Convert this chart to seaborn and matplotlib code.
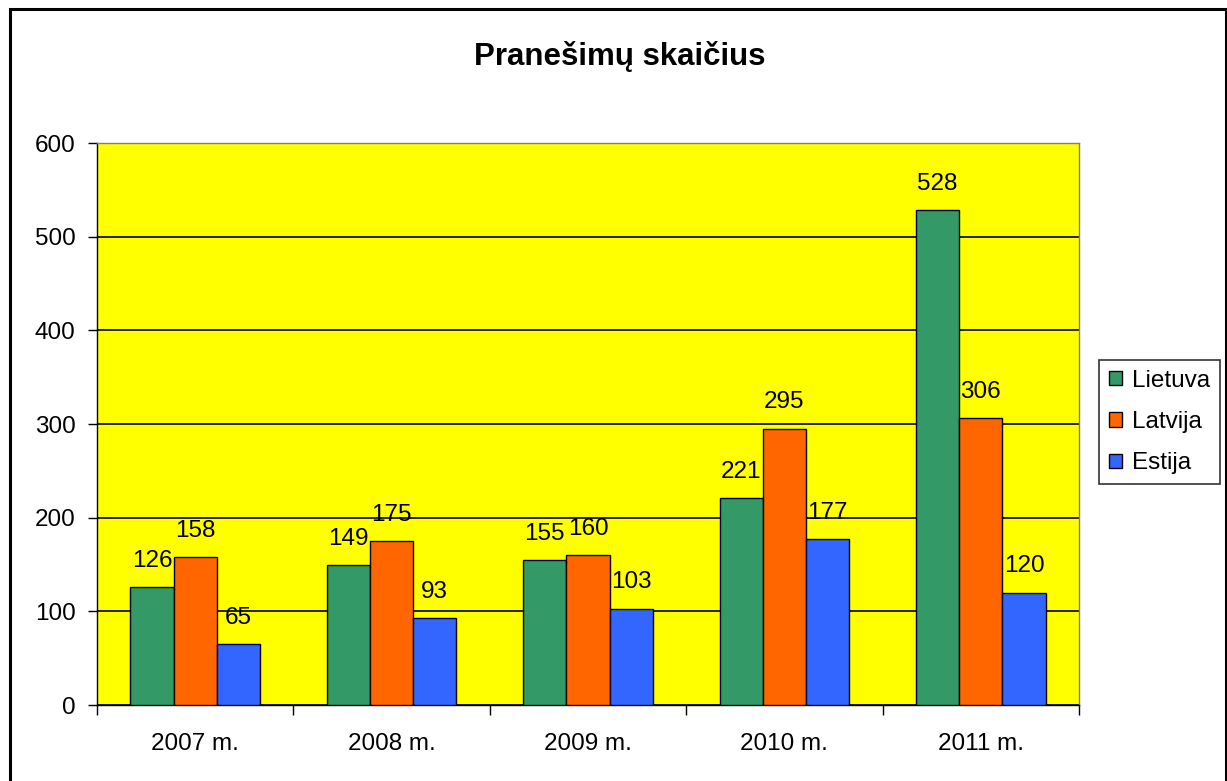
import matplotlib
matplotlib.use('Agg')
import matplotlib.pyplot as plt
import seaborn as sns
import pandas as pd

years = ['2007 m.', '2008 m.', '2009 m.', '2010 m.', '2011 m.']
lietuva = [126, 149, 155, 221, 528]
latvija = [158, 175, 160, 295, 306]
estija = [65, 93, 103, 177, 120]
countries = ['Lietuva', 'Latvija', 'Estija']
colors = ['#339966', '#FF6600', '#3366FF']

df = pd.DataFrame({
    'year': years * 3,
    'country': [c for c in countries for _ in years],
    'value': lietuva + latvija + estija,
})

sns.set_style('white')
plt.rcParams['font.family'] = ['Liberation Sans', 'DejaVu Sans']
plt.rcParams['text.color'] = 'black'
plt.rcParams['xtick.color'] = 'black'
plt.rcParams['ytick.color'] = 'black'

W, H = 1227, 781
fig = plt.figure(figsize=(W / 100, H / 100), dpi=100)
ax = fig.add_axes([97 / W, 1 - 705 / H, (1079 - 97) / W, (705 - 143) / H])

sns.barplot(data=df, x='year', y='value', hue='country', palette=colors,
            saturation=1, width=0.66, edgecolor='black', linewidth=1,
            ax=ax, zorder=3)

ax.set_facecolor('#FFFF00')
ax.set_ylim(0, 600)
ax.set_xlim(-0.5, 4.5)
ax.set_yticks(range(0, 601, 100))
ax.yaxis.grid(True, color='black', linewidth=1.2, zorder=0)
ax.set_axisbelow(True)
ax.tick_params(axis='y', labelsize=17.5, length=6.5, width=1, direction='out',
               left=True, pad=9, labelcolor='black')

# ticks between categories, labels at centers
ax.set_xticks([i - 0.5 for i in range(6)])
ax.set_xticklabels([])
ax.set_xticks(range(5), minor=True)
ax.set_xticklabels(years, minor=True)
ax.tick_params(axis='x', which='major', length=7, width=1, direction='out', bottom=True)
ax.tick_params(axis='x', which='minor', length=0, labelsize=17.5, pad=20, labelcolor='black')
ax.set_xlabel('')
ax.set_ylabel('')

for sp in ax.spines.values():
    sp.set_color('black')
    sp.set_linewidth(1)
ax.spines['top'].set_color('#808080')
ax.spines['right'].set_color('#808080')

for cont in ax.containers:
    ax.bar_label(cont, fontsize=17.5, padding=11, color='black')

fig.text(620 / W, 1 - 65 / H, 'Pranešimų skaičius', fontsize=22.5,
         fontweight='bold', ha='center', va='baseline', color='black')

leg = ax.legend(loc='center left', bbox_to_anchor=(1099 / W, 0.5 * (1 - 359 / H + 1 - 485 / H)),
                bbox_transform=fig.transFigure, fontsize=17.5,
                frameon=True, fancybox=False, edgecolor='black', handlelength=0.55,
                handleheight=0.55, handletextpad=0.4, borderpad=0.4, labelspacing=0.8,
                borderaxespad=0)
leg.get_frame().set_linewidth(1.2)
leg.get_frame().set_facecolor('white')

# outer chart border (cut off at the bottom edge)
fig.patches.append(plt.Rectangle((10 / W, -10 / H), 1216 / W, (772 + 10) / H,
                                 transform=fig.transFigure, fill=False,
                                 edgecolor='black', linewidth=2.2))

fig.savefig('out.png', dpi=100)
